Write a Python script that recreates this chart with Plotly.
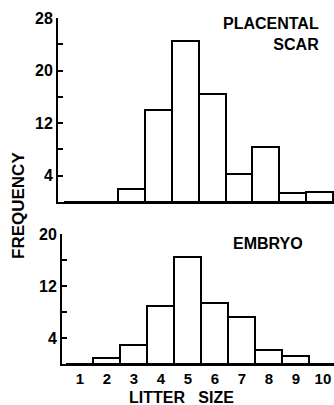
import plotly.graph_objects as go

litter_size = [1, 2, 3, 4, 5, 6, 7, 8, 9, 10]
placental_scar = [0, 0, 2, 14, 24.5, 16.5, 4.3, 8.4, 1.4, 1.5]
embryo = [0, 1, 3, 9, 16.5, 9.4, 7.2, 2.1, 1.2, 0]
top_ticks = [4, 8, 12, 16, 20, 24, 28]
top_ticktext = ["4", "", "12", "", "20", "", "28"]
bot_ticks = [4, 8, 12, 16, 20]
bot_ticktext = ["4", "", "12", "", "20"]
x_ticktext = [str(v) for v in litter_size]

W, H = 334, 405
FONT = "Liberation Sans"

def px_x(p):
    return p / W

def px_y(p):
    return 1 - p / H

bar_style = dict(marker=dict(color="white", line=dict(color="black", width=2)),
                 width=1, showlegend=False, hoverinfo="skip")

fig = go.Figure()
fig.add_trace(go.Bar(x=litter_size, y=placental_scar, xaxis="x", yaxis="y", **bar_style))
fig.add_trace(go.Bar(x=litter_size, y=embryo, xaxis="x2", yaxis="y2", **bar_style))

tickfont = dict(family=FONT, size=16, color="black", weight=700)

fig.update_layout(
    width=W, height=H,
    margin=dict(l=0, r=0, t=0, b=0, autoexpand=False),
    paper_bgcolor="white", plot_bgcolor="white",
    bargap=0,
    xaxis=dict(domain=[px_x(58), 1], range=[0.27, 10.53], anchor="y",
               showline=True, linecolor="black", linewidth=2,
               showticklabels=False, ticks="", showgrid=False, zeroline=False),
    yaxis=dict(domain=[px_y(202), px_y(18)], range=[0, 28], anchor="x",
               showline=True, linecolor="black", linewidth=2,
               tickvals=top_ticks, ticktext=top_ticktext,
               ticks="inside", ticklen=5, tickwidth=2, tickcolor="black",
               tickfont=tickfont, showgrid=False, zeroline=False),
    xaxis2=dict(domain=[px_x(62), 1], range=[0.34, 10.41], anchor="y2",
                showline=True, linecolor="black", linewidth=2,
                tickvals=litter_size, ticktext=x_ticktext, ticks="",
                tickfont=dict(family=FONT, size=15, color="black", weight=700),
                showgrid=False, zeroline=False),
    yaxis2=dict(domain=[px_y(364), px_y(234)], range=[0, 20], anchor="x2",
                showline=True, linecolor="black", linewidth=2,
                tickvals=bot_ticks, ticktext=bot_ticktext,
                ticks="inside", ticklen=5, tickwidth=2, tickcolor="black",
                tickfont=tickfont, showgrid=False, zeroline=False),
)

lab_font = dict(family=FONT, size=16, color="black", weight=700)
fig.add_annotation(text="PLACENTAL<br>SCAR", x=px_x(321), y=px_y(34), xref="paper", yref="paper",
                   xanchor="right", yanchor="middle", align="right", showarrow=False, font=lab_font)
fig.add_annotation(text="EMBRYO", x=px_x(268), y=px_y(243), xref="paper", yref="paper",
                   xanchor="center", yanchor="middle", showarrow=False, font=lab_font)
fig.add_annotation(text="LITTER&nbsp;&nbsp;&nbsp;SIZE", x=px_x(181), y=px_y(397), xref="paper", yref="paper",
                   xanchor="center", yanchor="middle", showarrow=False,
                   font=dict(family=FONT, size=16, color="black", weight=700))
fig.add_annotation(text="FREQUENCY", x=px_x(18), y=px_y(206), xref="paper", yref="paper",
                   xanchor="center", yanchor="middle", textangle=-90, showarrow=False,
                   font=dict(family=FONT, size=17, color="black", weight=700))

fig.write_html(
    "out.html",
    config={"displayModeBar": False},
    post_script="document.body.style.margin='0';document.body.style.overflow='hidden';",
)
